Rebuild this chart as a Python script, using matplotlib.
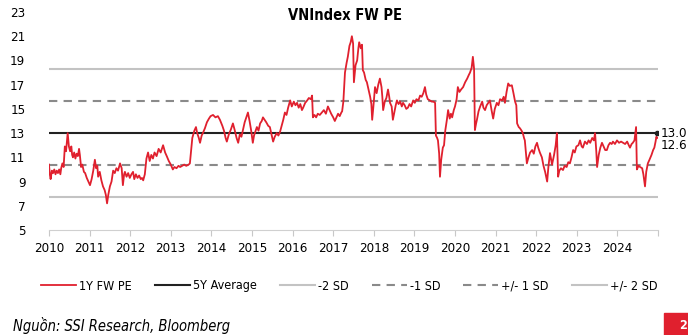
import matplotlib.pyplot as plt
import numpy as np

plt.rcParams['font.family'] = ['DejaVu Sans']
plt.rcParams['font.stretch'] = 'condensed'

# 1Y forward PE of VNIndex (decimal year, PE)
years = [
    2010.00, 2010.02, 2010.04, 2010.07, 2010.10, 2010.13, 2010.16, 2010.19, 2010.22, 2010.25,
    2010.28, 2010.30, 2010.33, 2010.36, 2010.39, 2010.42, 2010.46, 2010.49, 2010.52, 2010.55,
    2010.57, 2010.59, 2010.62, 2010.65, 2010.68, 2010.71, 2010.74, 2010.76, 2010.79, 2010.82,
    2010.86, 2010.89, 2010.93, 2010.97, 2011.01, 2011.05, 2011.09, 2011.13, 2011.16, 2011.19,
    2011.21, 2011.25, 2011.29, 2011.33, 2011.37, 2011.40, 2011.43, 2011.46, 2011.50, 2011.54,
    2011.58, 2011.62, 2011.66, 2011.70, 2011.75, 2011.79, 2011.82, 2011.85, 2011.87, 2011.91,
    2011.95, 2011.99, 2012.03, 2012.07, 2012.10, 2012.14, 2012.18, 2012.22, 2012.26, 2012.29,
    2012.32, 2012.36, 2012.40, 2012.44, 2012.48, 2012.52, 2012.56, 2012.60, 2012.65, 2012.70,
    2012.75, 2012.81, 2012.86, 2012.90, 2012.95, 2013.00, 2013.05, 2013.09, 2013.14, 2013.19,
    2013.23, 2013.28, 2013.33, 2013.38, 2013.44, 2013.47, 2013.50, 2013.53, 2013.58, 2013.62,
    2013.65, 2013.69, 2013.72, 2013.76, 2013.79, 2013.84, 2013.89, 2013.94, 2013.98, 2014.04,
    2014.10, 2014.16, 2014.21, 2014.27, 2014.31, 2014.35, 2014.38, 2014.43, 2014.48, 2014.53,
    2014.57, 2014.62, 2014.66, 2014.70, 2014.74, 2014.78, 2014.82, 2014.86, 2014.90, 2014.94,
    2014.98, 2015.02, 2015.05, 2015.09, 2015.12, 2015.16, 2015.20, 2015.24, 2015.27, 2015.31,
    2015.35, 2015.40, 2015.44, 2015.48, 2015.52, 2015.56, 2015.61, 2015.65, 2015.69, 2015.73,
    2015.77, 2015.81, 2015.85, 2015.89, 2015.94, 2015.98, 2016.03, 2016.07, 2016.11, 2016.15,
    2016.19, 2016.23, 2016.26, 2016.31, 2016.36, 2016.40, 2016.45, 2016.48, 2016.50, 2016.54,
    2016.58, 2016.62, 2016.67, 2016.72, 2016.77, 2016.82, 2016.87, 2016.91, 2016.95, 2017.00,
    2017.04, 2017.08, 2017.12, 2017.16, 2017.20, 2017.22, 2017.25, 2017.29, 2017.33, 2017.36,
    2017.40, 2017.43, 2017.46, 2017.49, 2017.51, 2017.55, 2017.59, 2017.62, 2017.64, 2017.68,
    2017.71, 2017.73, 2017.76, 2017.80, 2017.83, 2017.87, 2017.91, 2017.94, 2017.96, 2017.99,
    2018.03, 2018.07, 2018.11, 2018.15, 2018.19, 2018.21, 2018.23, 2018.27, 2018.31, 2018.35,
    2018.38, 2018.40, 2018.44, 2018.47, 2018.51, 2018.54, 2018.57, 2018.61, 2018.65, 2018.69,
    2018.72, 2018.76, 2018.80, 2018.84, 2018.88, 2018.92, 2018.97, 2019.01, 2019.05, 2019.10,
    2019.14, 2019.18, 2019.22, 2019.26, 2019.29, 2019.33, 2019.38, 2019.43, 2019.47, 2019.51,
    2019.53, 2019.56, 2019.58, 2019.61, 2019.63, 2019.66, 2019.70, 2019.73, 2019.76, 2019.80,
    2019.83, 2019.87, 2019.90, 2019.93, 2019.97, 2020.00, 2020.04, 2020.07, 2020.11, 2020.15,
    2020.20, 2020.25, 2020.30, 2020.34, 2020.37, 2020.41, 2020.44, 2020.47, 2020.49, 2020.52,
    2020.54, 2020.58, 2020.62, 2020.67, 2020.70, 2020.74, 2020.78, 2020.82, 2020.86, 2020.90,
    2020.94, 2020.98, 2021.03, 2021.07, 2021.11, 2021.16, 2021.20, 2021.23, 2021.27, 2021.31,
    2021.35, 2021.40, 2021.44, 2021.48, 2021.51, 2021.53, 2021.57, 2021.60, 2021.64, 2021.67,
    2021.70, 2021.72, 2021.75, 2021.77, 2021.81, 2021.85, 2021.90, 2021.94, 2021.98, 2022.02,
    2022.05, 2022.09, 2022.14, 2022.18, 2022.22, 2022.25, 2022.27, 2022.30, 2022.34, 2022.37,
    2022.39, 2022.44, 2022.48, 2022.51, 2022.54, 2022.57, 2022.61, 2022.66, 2022.70, 2022.75,
    2022.79, 2022.83, 2022.87, 2022.91, 2022.95, 2022.99, 2023.04, 2023.08, 2023.12, 2023.15,
    2023.20, 2023.25, 2023.29, 2023.33, 2023.38, 2023.42, 2023.45, 2023.48, 2023.50, 2023.54,
    2023.58, 2023.62, 2023.66, 2023.70, 2023.74, 2023.78, 2023.82, 2023.86, 2023.89, 2023.94,
    2023.99, 2024.04, 2024.09, 2024.14, 2024.19, 2024.24, 2024.28, 2024.31, 2024.35, 2024.38,
    2024.42, 2024.46, 2024.48, 2024.52, 2024.56, 2024.61, 2024.64, 2024.68, 2024.71, 2024.75,
    2024.79, 2024.84, 2024.88, 2024.91, 2024.94, 2024.96, 2024.98,
]
pe = [
    10.4, 9.6, 9.2, 9.9, 9.7, 10.0, 9.6, 9.9, 9.7, 10.0,
    9.6, 10.1, 10.5, 10.2, 11.9, 11.5, 13.0, 11.9, 11.5, 11.9,
    11.2, 11.0, 11.4, 10.9, 11.3, 11.1, 11.7, 11.2, 10.2, 10.4,
    9.8, 9.7, 9.3, 9.0, 8.7, 9.2, 9.9, 10.8, 10.1, 10.3,
    9.4, 9.8, 9.1, 8.6, 8.3, 7.9, 7.2, 7.9, 8.6, 9.0,
    9.9, 9.7, 10.1, 9.9, 10.5, 10.1, 8.7, 9.6, 9.8, 9.4,
    9.7, 9.3, 9.6, 9.8, 9.2, 9.6, 9.3, 9.5, 9.2, 9.3,
    9.1, 9.6, 10.9, 11.4, 10.7, 11.2, 10.9, 11.4, 11.1, 11.7,
    11.4, 12.0, 11.4, 11.1, 10.7, 10.4, 10.0, 10.2, 10.1, 10.3,
    10.2, 10.3, 10.4, 10.3, 10.4, 10.5, 11.6, 12.6, 13.2, 13.5,
    13.0, 12.6, 12.2, 12.8, 13.0, 13.4, 13.9, 14.2, 14.4, 14.5,
    14.3, 14.4, 14.1, 13.6, 13.2, 12.6, 12.3, 12.9, 13.3, 13.8,
    13.3, 12.6, 12.2, 12.9, 12.7, 13.3, 13.9, 14.3, 14.7, 14.0,
    13.2, 12.2, 12.8, 13.2, 13.5, 13.2, 13.8, 14.0, 14.3, 14.1,
    13.9, 13.6, 13.5, 12.9, 12.3, 12.7, 13.0, 12.8, 13.1, 13.6,
    14.1, 14.7, 14.5, 15.1, 15.7, 15.2, 15.6, 15.3, 15.5, 15.1,
    15.4, 14.9, 15.1, 15.5, 15.7, 15.9, 15.8, 16.1, 14.3, 14.5,
    14.3, 14.6, 14.5, 14.7, 14.9, 14.6, 15.2, 14.9, 14.6, 14.3,
    14.0, 14.3, 14.6, 14.4, 14.7, 14.8, 15.6, 18.0, 18.8, 19.3,
    20.2, 20.5, 21.0, 20.4, 17.2, 18.6, 19.0, 20.0, 20.5, 20.0,
    20.3, 18.2, 18.0, 17.4, 17.2, 16.6, 16.0, 15.4, 14.1, 15.2,
    16.8, 16.3, 17.0, 17.5, 16.8, 16.0, 14.9, 15.6, 15.9, 16.6,
    16.0, 15.5, 15.2, 14.1, 14.8, 15.3, 15.7, 15.4, 15.6, 15.2,
    15.5, 15.3, 15.0, 15.1, 15.4, 15.2, 15.7, 15.5, 15.8, 15.7,
    16.1, 16.0, 16.3, 16.8, 16.2, 15.8, 15.7, 15.6, 15.6, 15.5,
    12.8, 12.6, 12.4, 11.3, 9.4, 10.8, 11.8, 12.0, 13.2, 14.1,
    14.9, 14.2, 14.6, 14.3, 14.9, 15.2, 15.8, 16.8, 16.4, 16.6,
    16.8, 17.2, 17.5, 17.8, 18.0, 18.4, 19.3, 18.3, 13.25, 13.8,
    14.1, 14.8, 15.2, 15.6, 15.1, 14.9, 15.3, 15.5, 15.7, 14.9,
    14.2, 15.0, 15.5, 15.3, 15.8, 15.7, 16.0, 15.5, 16.4, 17.1,
    16.9, 16.95, 16.3, 15.6, 15.3, 13.8, 13.5, 13.4, 13.2, 13.0,
    12.6, 12.4, 11.2, 10.5, 11.0, 11.4, 11.6, 11.3, 11.9, 12.2,
    11.8, 11.4, 11.0, 10.3, 9.8, 9.3, 9.0, 10.2, 11.35, 10.8,
    10.4, 11.2, 12.0, 13.0, 9.4, 9.9, 10.1, 9.95, 10.3, 10.2,
    10.6, 10.5, 11.0, 11.6, 11.4, 11.9, 12.0, 12.4, 11.9, 11.8,
    12.3, 12.1, 12.4, 12.2, 12.6, 12.4, 13.0, 11.5, 10.2, 11.2,
    11.8, 12.2, 11.9, 11.6, 11.6, 12.0, 12.2, 12.1, 12.3, 12.1,
    12.4, 12.2, 12.3, 12.2, 12.1, 12.3, 12.0, 11.8, 12.1, 12.2,
    12.4, 13.5, 10.0, 10.3, 10.2, 10.1, 9.6, 8.6, 9.8, 10.5,
    10.8, 11.2, 11.6, 11.8, 12.3, 12.7, 12.6,
]

avg_5y = 13.0
sd_minus2 = 7.7
sd_minus1 = 10.35
sd_plus1 = 15.65
sd_plus2 = 18.3
year_ticks = list(range(2010, 2025))
y_ticks = [5, 7, 9, 11, 13, 15, 17, 19, 21, 23]

fig = plt.figure(figsize=(6.88, 3.35), dpi=100)
ax = fig.add_axes([49/688, 1 - 230/335, 609/688, 218/335])

light = '#c3c3c3'
dash = '#8a8a8a'
ax.axhline(sd_minus2, color=light, lw=1.5, label='-2 SD', zorder=1)
ax.axhline(sd_minus1, color=dash, lw=1.5, ls=(0, (4, 3)), label='-1 SD', zorder=1)
ax.axhline(sd_plus1, color=dash, lw=1.5, ls=(0, (4, 3)), label='+/- 1 SD', zorder=1)
ax.axhline(sd_plus2, color=light, lw=1.5, label='+/- 2 SD', zorder=1)
ax.plot([2010, years[-1]], [avg_5y, avg_5y], color='#222222', lw=1.5, label='5Y Average', zorder=2)
ax.plot([years[-1]], [avg_5y], 'o', color='#222222', ms=3, zorder=4)
ax.plot(years, pe, color='#e0202e', lw=1.3, label='1Y FW PE', zorder=3)

ax.text(years[-1] + 0.08, avg_5y, '%.1f' % avg_5y, fontsize=9.5, va='center', ha='left')
ax.text(years[-1] + 0.08, pe[-1] - 0.65, '%.1f' % pe[-1], fontsize=9.5, va='center', ha='left')

ax.set_xlim(2010, 2025)
ax.set_ylim(5, 23)
ax.set_xticks(year_ticks + [2025])
ax.set_xticklabels([str(y) for y in year_ticks] + [''])
ax.set_yticks(y_ticks)
ax.tick_params(axis='y', length=0, pad=17, labelsize=9.5)
ax.tick_params(axis='x', length=4, color='#c8c8c8', pad=5, labelsize=9.5)
for s in ['top', 'right', 'left']:
    ax.spines[s].set_visible(False)
ax.spines['bottom'].set_color('#d0d0d0')

h, l = ax.get_legend_handles_labels()
order = ['1Y FW PE', '5Y Average', '-2 SD', '-1 SD', '+/- 1 SD', '+/- 2 SD']
hd = dict(zip(l, h))
fig.legend([hd[k] for k in order], order, loc='center', bbox_to_anchor=(349/688, 1 - 286/335),
           ncol=6, frameon=False, fontsize=9, handlelength=2.8, handletextpad=0.25,
           columnspacing=1.85, borderpad=0.2)

fig.text(345/688, 1 - 15/335, 'VNIndex FW PE', ha='center', va='center', fontsize=10.5, fontweight='bold')
fig.text(13/688, 1 - 325/335, 'Nguồn: SSI Research, Bloomberg', ha='left', va='center',
         fontsize=10.5, style='italic')
fig.patches.append(plt.Rectangle((664/688, 0), 24/688, 22/335, transform=fig.transFigure,
                                 color='#e0202e', zorder=0))
fig.text(679/688, 3/335, '2', color='white', fontsize=9, fontweight='bold', ha='left', va='bottom')

plt.savefig('out.png', dpi=100)
